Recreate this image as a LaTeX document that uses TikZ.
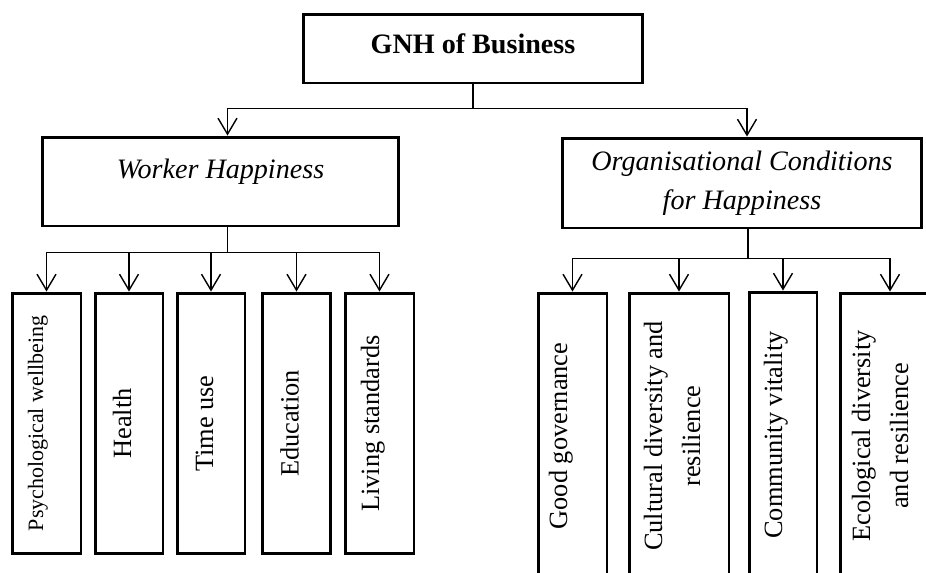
\documentclass[tikz,border=0pt]{standalone}
\usepackage{fontspec}
\setmainfont{Liberation Serif}
\usetikzlibrary{arrows.meta,positioning}

\begin{document}
\begin{tikzpicture}[
  x=0.02cm, y=-0.02cm,
  >={Straight Barb[length=0.32cm,width=0.38cm]},
  conn/.style={line width=0.8pt},
  arrow/.style={->, conn},
  box/.style={rectangle, draw, line width=1.7pt, inner xsep=0pt, inner ysep=0pt, text centered},
  head/.style={box, font=\fontsize{16}{22}\selectfont\itshape},
  leaf/.style={box, rotate=90, minimum width=5.22cm, text height=0.72cm, text depth=0.64cm, font=\fontsize{15}{21.5}\selectfont},
  leafr/.style={leaf, minimum width=5.72cm}
]
\useasboundingbox (0,0) rectangle (926,572);
\clip (0,0) rectangle (926,572);
\node[box, minimum width=6.8cm, text height=0.78cm, text depth=0.6cm, font=\fontsize{16}{22}\selectfont\bfseries] (gnh) at (473,48.5) {GNH of Business};
\node[head, minimum width=7.14cm, text height=0.82cm, text depth=0.96cm] (wh) at (220.5,181.5) {Worker Happiness};
\node[head, minimum width=7.2cm, minimum height=1.8cm, align=center] (oc) at (742,183) {Organisational Conditions\\for Happiness};
\node[leaf, text height=0.62cm, text depth=0.76cm, font=\fontsize{12.5}{15}\selectfont] (p1) at (46.5,423.5) {Psychological wellbeing};
\node[leaf] (p2) at (129,423.5) {Health};
\node[leaf] (p3) at (211,423.5) {Time use};
\node[leaf] (p4) at (296.5,423.5) {Education};
\node[leaf, text height=0.68cm, text depth=0.7cm] (p5) at (379.5,423.5) {Living standards};
\node[leafr, text height=0.58cm, text depth=0.8cm] (q1) at (572.5,436) {Good governance};
\node[leafr, text height=1.42cm, text depth=0.58cm, align=center] (q2) at (679,436) {Cultural diversity and\\resilience};
\node[leafr, text height=0.66cm, text depth=0.7cm] (q3) at (783,435) {Community vitality};
\node[leafr, text height=1.36cm, text depth=0.64cm, align=center] (q4) at (890,436) {Ecological diversity\\and resilience};
\draw[conn] (gnh.south) -- ++(0,24) coordinate (j0);
\draw[arrow] (j0) -| ([xshift=0.14cm]wh.north);
\draw[arrow] (j0) -| ([xshift=0.1cm]oc.north);
\draw[conn] ([xshift=0.14cm]wh.south) -- ++(0,25) coordinate (j1);
\foreach \n in {p1,p2,p3,p4,p5}
  \draw[arrow] (j1) -| (\n.east);
\draw[conn] ([xshift=0.12cm]oc.south) -- ++(0,29) coordinate (j2);
\foreach \n in {q1,q2,q3,q4}
  \draw[arrow] (j2) -| (\n.east);
\end{tikzpicture}
\end{document}
